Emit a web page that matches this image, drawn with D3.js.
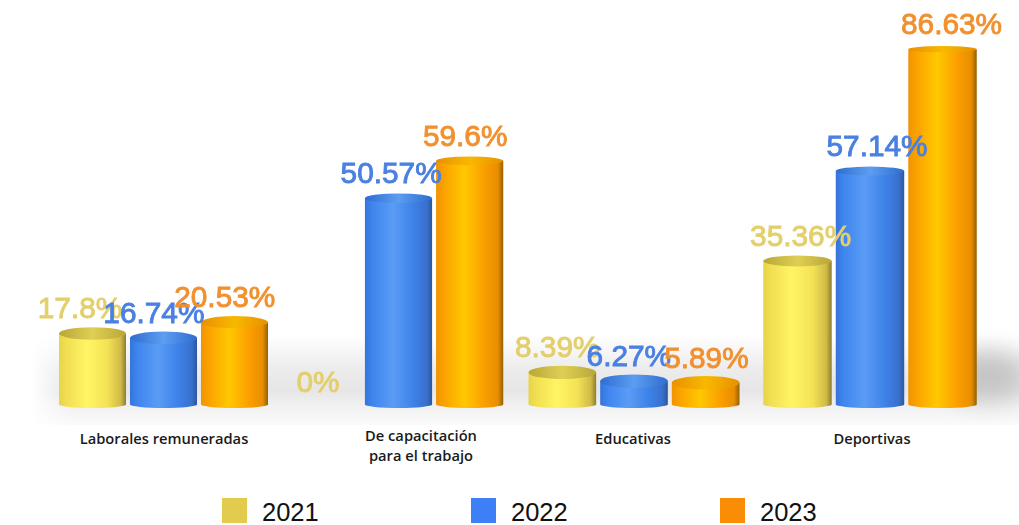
<!DOCTYPE html>
<html><head><meta charset="utf-8">
<script src="https://cdn.jsdelivr.net/npm/d3@7"></script>
<style>html,body{margin:0;padding:0;background:#fff}svg{display:block}</style>
</head><body><svg id="c" width="1019" height="525"></svg>
<script>
const categories = [["Laborales remuneradas"],["De capacitación","para el trabajo"],["Educativas"],["Deportivas"]];
const years = ["2021","2022","2023"];
const values2021 = [17.8,0,8.39,35.36];
const values2022 = [16.74,50.57,6.27,57.14];
const values2023 = [20.53,59.6,5.89,86.63];
const seriesValues = [values2021,values2022,values2023];
const valueLabels = [["17.8%","0%","8.39%","35.36%"],["16.74%","50.57%","6.27%","57.14%"],["20.53%","59.6%","5.89%","86.63%"]];
const labelColors = ["#e3cf6c","#4a80e2","#f2902f"];
const legendColors = ["#e3cb4e","#3d7ff7","#fb8c05"];
const gradStops = [
 ["#e6d44a","#f2df52","#fff565","#f4e255","#d0bb48","#8c7d30"],
 ["#3574dc","#3f86ee","#5a9cf5","#3d82e8","#3870cc","#2c56a0"],
 ["#f09400","#fba200","#ffc800","#fb9e00","#e88e00","#946000"]];
const capColors = [["#b8a636","#e0cf55"],["#2e6cd0","#5c9ef0"],["#e89000","#f8b800"]];
const labelNudge = [[1,-2,-4,-2],[2,-2,-6,0],[0,-1,-2,0]];

const svg = d3.select("#c");
const defs = svg.append("defs");
const stopsAt = [0,0.12,0.42,0.72,0.92,1];
gradStops.forEach((g,i)=>{
  const lg = defs.append("linearGradient").attr("id","side"+i);
  g.forEach((c,j)=>lg.append("stop").attr("offset",stopsAt[j]).attr("stop-color",c));
  const cg = defs.append("linearGradient").attr("id","cap"+i);
  [capColors[i][0],capColors[i][1],capColors[i][0]].forEach((c,j)=>cg.append("stop").attr("offset",j/2).attr("stop-color",c));
});
const bg = defs.append("linearGradient").attr("id","floor").attr("x2",0).attr("y2",1);
[[0,"#fff"],[0.38,"#ececec"],[0.62,"#e6e6e6"],[0.82,"#f3f3f3"],[1,"#fbfbfb"]].forEach(s=>bg.append("stop").attr("offset",s[0]).attr("stop-color",s[1]));
const side = defs.append("linearGradient").attr("id","fadeL");
[[0,"#000"],[0.02,"#000"],[0.06,"#fff"],[1,"#fff"]].forEach(s=>side.append("stop").attr("offset",s[0]).attr("stop-color",s[1]));
defs.append("mask").attr("id","floorMask").append("rect").attr("x",10).attr("y",335).attr("width",1009).attr("height",90).attr("fill","url(#fadeL)");
defs.append("filter").attr("id","soft").append("feGaussianBlur").attr("stdDeviation",0.45);
defs.append("filter").attr("id","shade").attr("x","-50%").attr("y","-50%").attr("width","200%").attr("height","200%")
  .append("feGaussianBlur").attr("stdDeviation",12);

svg.append("rect").attr("x",10).attr("y",335).attr("width",1009).attr("height",90)
  .attr("fill","url(#floor)").attr("mask","url(#floorMask)");
svg.append("ellipse").attr("cx",985).attr("cy",376).attr("rx",42).attr("ry",24)
  .attr("fill","#c4c4c4").attr("filter","url(#shade)");

const x0 = d3.scaleBand().domain(d3.range(categories.length)).range([46,985]);
const x1For = c => d3.scaleBand().domain(d3.range(years.length)).range([13,222+c*c*0.5]).paddingInner(0.056);
const y = d3.scaleLinear().domain([0,100]).range([407,-6]);
const ry = d3.scaleLinear().domain([0,90]).range([7,3]);
const labelX = d3.scaleLinear().domain([92.5,942]).range([79,951]);
const categoryCentres = [164,421,633,872];

const chart = svg.append("g").attr("filter","url(#soft)");
const labelsLayer = svg.append("g").attr("filter","url(#soft)");

seriesValues.forEach((vals,s)=>{
  vals.forEach((v,c)=>{
    const x1 = x1For(c);
    const xl = x0(c)+x1(s), w = x1.bandwidth(), cx = xl+w/2;
    if(v>0){
      const top = y(v), rt = ry(v), rb = 3.5, bot = y(0)+1;
      const g = chart.append("g");
      g.append("path")
        .attr("d",`M${xl},${top}L${xl},${bot-rb}A${w/2},${rb} 0 0 0 ${xl+w},${bot-rb}L${xl+w},${top}Z`)
        .attr("fill",`url(#side${s})`);
      g.append("ellipse").attr("cx",cx).attr("cy",top).attr("rx",w/2).attr("ry",rt)
        .attr("fill",`url(#cap${s})`);
    }
    labelsLayer.append("text").attr("x",labelX(cx)+labelNudge[s][c]).attr("y",y(v)-15)
      .attr("text-anchor","middle").attr("font-family","Liberation Sans, Arial, sans-serif")
      .attr("font-size",29.8).attr("fill",labelColors[s]).attr("stroke",labelColors[s]).attr("stroke-width",0.9)
      .text(valueLabels[s][c]);
  });
});

categories.forEach((lines,c)=>{
  const t = svg.append("text").attr("y",lines.length>1?441:444).attr("text-anchor","middle")
    .attr("font-family","Open Sans, sans-serif").attr("font-weight",600).attr("font-size",14.7).attr("fill","#1a1a1a");
  lines.forEach((l,i)=>t.append("tspan").attr("x",categoryCentres[c]).attr("dy",i?20:0).text(l));
});

const legendX = d3.scalePoint().domain(years).range([222,720]);
years.forEach((yr,i)=>{
  svg.append("rect").attr("x",legendX(yr)).attr("y",498).attr("width",25).attr("height",25).attr("fill",legendColors[i]);
  svg.append("text").attr("x",legendX(yr)+40).attr("y",521).attr("font-family","Liberation Sans, Arial, sans-serif")
    .attr("font-size",25.5).attr("fill","#111").text(yr);
});
</script></body></html>
